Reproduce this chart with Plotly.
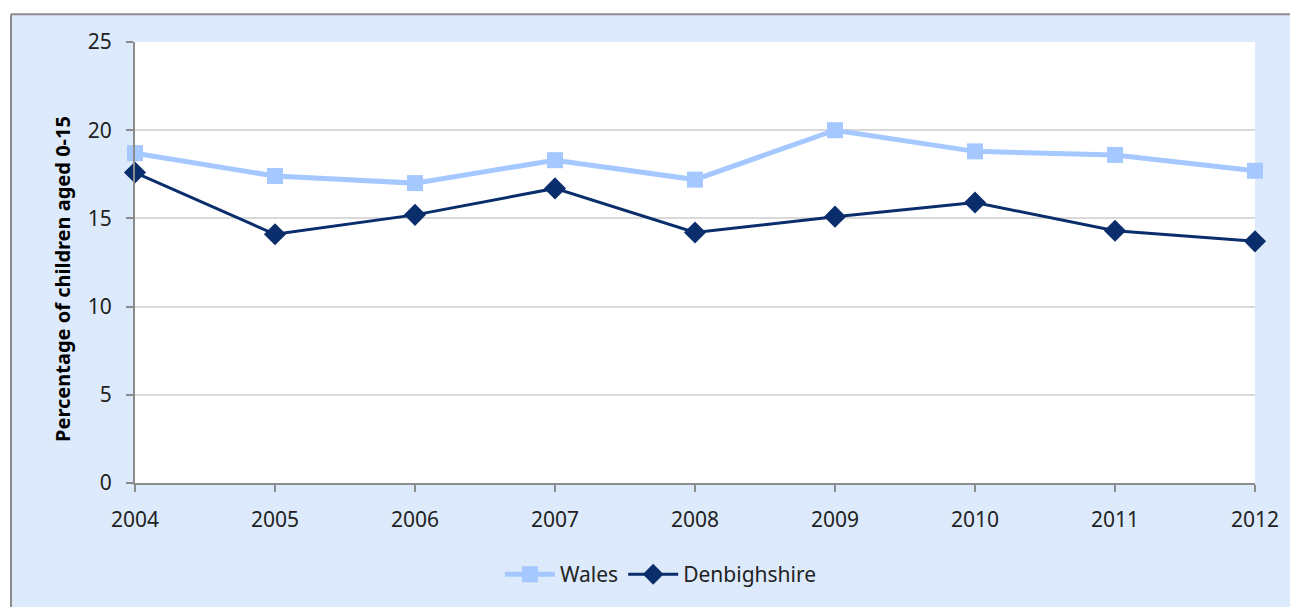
import plotly.graph_objects as go

years = [2004, 2005, 2006, 2007, 2008, 2009, 2010, 2011, 2012]
wales = [18.7, 17.4, 17.0, 18.3, 17.2, 20.0, 18.8, 18.6, 17.7]
denbighshire = [17.6, 14.1, 15.2, 16.7, 14.2, 15.1, 15.9, 14.3, 13.7]

bg = "#DCEAFC"
border = "#8C8C8C"
axis_col = "#8C8C8C"
font_fam = "Noto Sans"

fig = go.Figure()

fig.add_trace(go.Scatter(
    x=years, y=wales, name="Wales", mode="lines+markers",
    line=dict(color="#A4C8FF", width=5),
    marker=dict(symbol="square", size=16, color="#A4C8FF"),
    cliponaxis=False,
))
fig.add_trace(go.Scatter(
    x=years, y=denbighshire, name="Denbighshire", mode="lines+markers",
    line=dict(color="#0A2D6B", width=3),
    marker=dict(symbol="diamond", size=17, color="#0A2D6B"),
    cliponaxis=False,
))

# white strips outside the chart frame + grey frame lines
# (page body has an 8px margin, so the figure is drawn 8px smaller)
fig.add_shape(type="rect", xref="paper", yref="paper", x0=-0.13, x1=1.16, y0=1.0632, y1=1.11,
              fillcolor="white", line_width=0, layer="below")
fig.add_shape(type="rect", xref="paper", yref="paper", x0=-0.13, x1=-0.1107, y0=-0.3, y1=1.11,
              fillcolor="white", line_width=0, layer="below")
fig.add_shape(type="line", xref="paper", yref="paper", x0=-0.1107, x1=1.16, y0=1.0632, y1=1.0632,
              line=dict(color=border, width=2))
fig.add_shape(type="line", xref="paper", yref="paper", x0=-0.1107, x1=-0.1107, y0=-0.3, y1=1.0632,
              line=dict(color=border, width=2))

# y title as annotation so it can sit a little below the axis centre
fig.add_annotation(
    text="<b>Percentage of children aged 0-15</b>", textangle=-90,
    xref="paper", yref="paper", x=-0.0643, y=0.4628,
    xanchor="center", yanchor="middle", showarrow=False,
    font=dict(family=font_fam, size=20, color="#000000"),
)

fig.update_xaxes(
    range=[2004, 2012], tickvals=years, ticktext=[str(y) for y in years],
    showgrid=False, showline=True, linecolor=axis_col, linewidth=2,
    ticks="outside", ticklen=7, tickcolor=axis_col, tickwidth=2,
    tickfont=dict(family=font_fam, size=21, color="#222222"),
    ticklabelstandoff=10, zeroline=False,
)
fig.update_yaxes(
    range=[0, 25], dtick=5, showgrid=True, gridcolor="#D9D9D9", gridwidth=1.5,
    showline=True, linecolor=axis_col, linewidth=2,
    ticks="outside", ticklen=7, tickcolor=axis_col, tickwidth=2,
    tickfont=dict(family=font_fam, size=21, color="#222222"),
    ticklabelstandoff=10, zeroline=False,
)

fig.update_layout(
    width=1290, height=599,
    margin=dict(l=127, r=43, t=34, b=122),
    paper_bgcolor=bg, plot_bgcolor="white",
    showlegend=True,
    legend=dict(orientation="h", x=0.4696, xanchor="center", y=-0.2077, yanchor="middle",
                font=dict(family=font_fam, size=21, color="#222222"),
                bgcolor="rgba(0,0,0,0)", itemwidth=50),
)

fig.write_html("out.html")
